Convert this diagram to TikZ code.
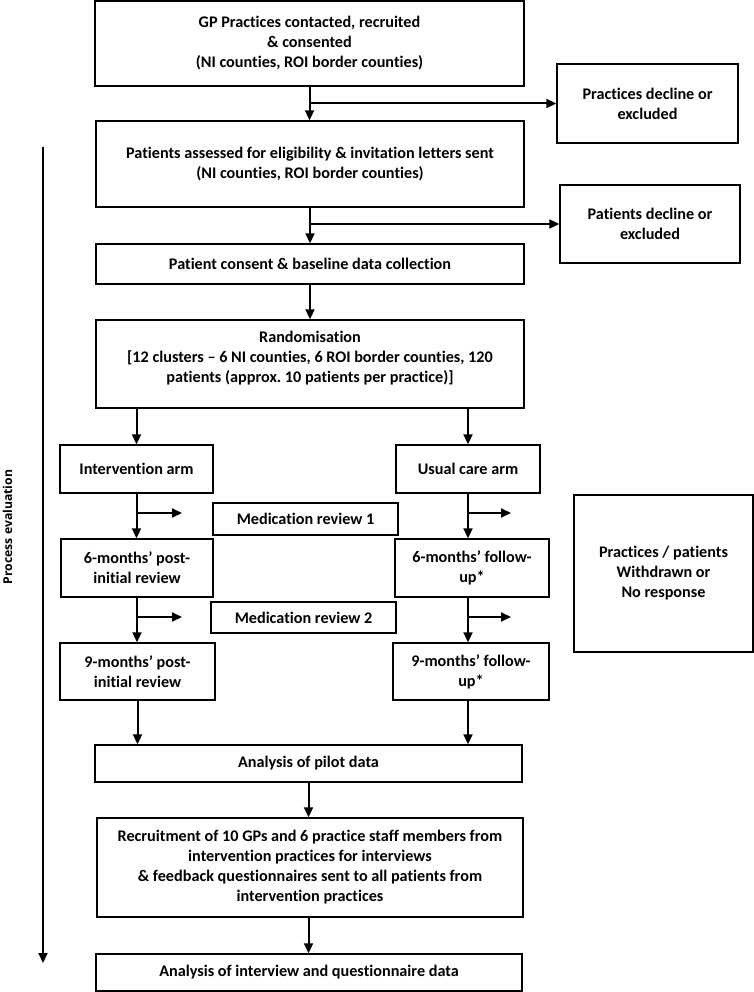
\documentclass[tikz,border=0pt]{standalone}
\usepackage{fontspec}
\setmainfont{Carlito}[Ligatures={TeX,NoCommon}]
\newfontfamily\pefont{Open Sans}
\usetikzlibrary{arrows.meta}

\begin{document}
\begin{tikzpicture}[->,>={Triangle[length=10pt,width=9pt]},line width=2pt,
        x=1pt,y=-1pt,
        box/.style={draw,rectangle,line width=1.4pt,align=center,inner sep=2pt,
          font=\bfseries\fontsize{16.2}{20}\selectfont}]

  \useasboundingbox (0,0) rectangle (754,992);

  \node[box,minimum width=429pt,minimum height=85pt] (gp) at (309.5,43.5)
    {GP Practices contacted, recruited\\ \& consented\\ (NI counties, ROI border counties)};
  \node[box,minimum width=181pt,minimum height=79pt] (pdecl) at (647.5,103.5)
    {Practices decline or\\ excluded};
  \node[box,minimum width=428pt,minimum height=86pt] (assess) at (310,164)
    {Patients assessed for eligibility \& invitation letters sent\\ (NI counties, ROI border counties)};
  \node[box,minimum width=180pt,minimum height=78pt] (ptdecl) at (650,224)
    {Patients decline or\\ excluded};
  \node[box,minimum width=428pt,minimum height=40pt] (consent) at (310,264)
    {Patient consent \& baseline data collection};
  \node[box,minimum width=428pt,minimum height=88pt] (random) at (310,364)
    {Randomisation\\ {[}12 clusters – 6 NI counties, 6 ROI border counties, 120\\
     patients (approx.\ 10 patients per practice)]\\[-6pt]\mbox{}};

  \node[box,minimum width=153pt,minimum height=48pt] (interv) at (136.5,469) {Intervention arm};
  \node[box,minimum width=144pt,minimum height=48pt] (usual) at (468,469) {Usual care arm};
  \node[box,minimum width=179pt,minimum height=157pt] (withdr) at (663.5,573.5)
    {Practices / patients\\ Withdrawn or\\ No response};

  \node[box,minimum width=185pt,minimum height=32pt] (med1) at (305.5,519) {Medication review 1};
  \node[box,minimum width=152pt,minimum height=58pt] (sixl) at (137,568) {6-months’ post-\\ initial review};
  \node[box,minimum width=154pt,minimum height=58pt] (sixr) at (472,568) {6-months’ follow-\\ up*};
  \node[box,minimum width=185pt,minimum height=31pt] (med2) at (303.5,617.5) {Medication review 2};
  \node[box,minimum width=155pt,minimum height=57pt] (ninel) at (137.5,671.5) {9-months’ post-\\ initial review};
  \node[box,minimum width=156pt,minimum height=57pt] (niner) at (471,671.5) {9-months’ follow-\\ up*};

  \node[box,minimum width=427pt,minimum height=37pt] (pilot) at (308.5,763.5) {Analysis of pilot data};
  \node[box,minimum width=426pt,minimum height=99pt] (recruit) at (310,867.5)
    {Recruitment of 10 GPs and 6 practice staff members from\\ intervention practices for interviews\\
     \& feedback questionnaires sent to all patients from\\ intervention practices};
  \node[box,minimum width=426pt,minimum height=37pt] (final) at (309,972.5)
    {Analysis of interview and questionnaire data};

  \node[rotate=90,font=\pefont\bfseries\fontsize{12.2}{14}\selectfont] (pe) at (7.5,527) {Process evaluation};

  % free ends of the short side arrows
  \coordinate (pstart) at (43,147);
  \coordinate (pend) at (43,963);
  \coordinate (t1l) at (182,513);
  \coordinate (t1r) at (511,513);
  \coordinate (t2l) at (182,617);
  \coordinate (t2r) at (511,617);

  \draw (gp.south) -- (gp.south |- assess.north);
  \draw (gp.south |- pdecl.west) -- (pdecl.west);
  \draw (assess.south) -- (assess.south |- consent.north);
  \draw (assess.south |- ptdecl.west) -- (ptdecl.west);
  \draw (consent) -- (random);
  \draw (interv.north |- random.south) -- (interv.north);
  \draw (usual.north |- random.south) -- (usual.north);

  \draw (interv.south) -- (interv.south |- sixl.north);
  \draw (interv.south |- t1l) -- (t1l);
  \draw (usual.south) -- (usual.south |- sixr.north);
  \draw (usual.south |- t1r) -- (t1r);
  \draw (sixl.south) -- (sixl.south |- ninel.north);
  \draw (sixl.south |- t2l) -- (t2l);
  \draw (usual.south |- sixr.south) -- (usual.south |- niner.north);
  \draw (usual.south |- t2r) -- (t2r);

  \draw (ninel.south) -- (ninel.south |- pilot.north);
  \draw (usual.south |- niner.south) -- (usual.south |- pilot.north);
  \draw (pilot.south) -- (pilot.south |- recruit.north);
  \draw (pilot.south |- recruit.south) -- (pilot.south |- final.north);
  \draw (pstart) -- (pend);

\end{tikzpicture}
\end{document}
